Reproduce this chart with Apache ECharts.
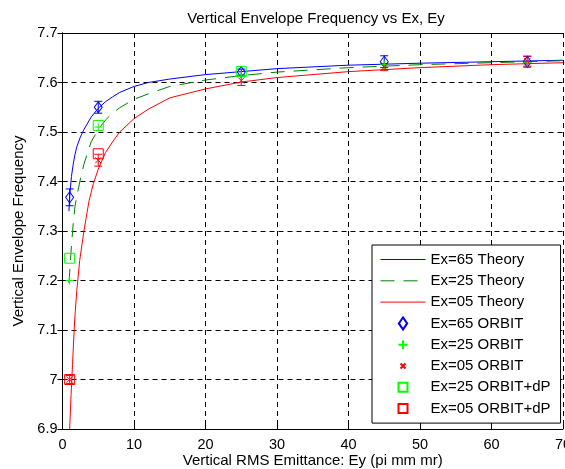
<!DOCTYPE html>
<html><head><meta charset="utf-8">
<script src="https://cdn.jsdelivr.net/npm/echarts@6/dist/echarts.min.js"></script>
<style>html,body{margin:0;padding:0;background:#fff;overflow:hidden;width:565px;height:469px}#c{width:565px;height:469px;overflow:hidden}</style>
</head><body><div id="c"></div>
<script>
// Theory curves
const theory65X = [0.9, 1, 1.25, 1.5, 1.75, 2, 2.5, 3, 4, 5, 6, 7, 8, 10, 12, 15, 20, 25, 30, 40, 50, 60, 70];
const theory65Y = [7.34, 7.37, 7.41, 7.435, 7.455, 7.47, 7.49, 7.505, 7.53, 7.548, 7.561, 7.571, 7.58, 7.592, 7.6, 7.607, 7.616, 7.622, 7.628, 7.635, 7.639, 7.642, 7.645];
const theory25X = [0.9, 1, 1.25, 1.5, 1.75, 2, 2.5, 3, 4, 5, 6, 7, 8, 10, 12, 15, 20, 25, 30, 40, 50, 60, 70];
const theory25Y = [7.195, 7.215, 7.27, 7.315, 7.35, 7.37, 7.405, 7.435, 7.48, 7.505, 7.524, 7.538, 7.549, 7.566, 7.577, 7.592, 7.605, 7.614, 7.621, 7.63, 7.636, 7.64, 7.644];
const theory05X = [1, 1.2, 1.4, 1.7, 2, 2.4, 3, 3.7, 4.3, 5, 6, 7, 8, 10, 12, 15, 20, 25, 30, 40, 50, 60, 70];
const theory05Y = [6.9, 6.97, 7.03, 7.12, 7.18, 7.24, 7.3, 7.36, 7.395, 7.425, 7.458, 7.48, 7.5, 7.527, 7.546, 7.569, 7.587, 7.601, 7.61, 7.622, 7.63, 7.636, 7.64];
// ORBIT simulation points
const orbitX = [1, 5, 25, 45, 65];
const orbit65Y = [7.368, 7.55, 7.621, 7.642, 7.642];
const orbit65Err = [0.017, 0.012, 0.006, 0.012, 0.011];
const orbit25Y = [7.2, 7.51, 7.615, 7.636, 7.64];
const orbit05Y = [7.0, 7.443, 7.604, 7.631, 7.643];
const orbit05Err = [0.008, 0.012, 0.01, 0.007, 0.01];
const dp25X = [1, 5, 25];
const dp25Y = [7.245, 7.513, 7.622];
const dp05X = [1, 5];
const dp05Y = [7.0, 7.456];

const names = ['Ex=65 Theory','Ex=25 Theory','Ex=05 Theory','Ex=65 ORBIT','Ex=25 ORBIT','Ex=05 ORBIT','Ex=25 ORBIT+dP','Ex=05 ORBIT+dP'];
const FONT = 'Liberation Sans';
const FS = 15;
const FS_TICK = 14.5;

const zip = (xs, ys) => xs.map((x, i) => [x, ys[i]]);
const zip3 = (xs, ys, es) => xs.map((x, i) => [x, ys[i], es[i]]);

const DIAMOND = 'path://M5,0L10,7L5,14L0,7Z';
const PLUS = 'path://M0,5L10,5M5,0L5,10';
const CROSS = 'path://M0,0L10,10M10,0L0,10';
const SQUARE = 'path://M0,0L10,0L10,10L0,10Z';
// legend icons (padded inside a 12x12 box)
const L_DIAMOND = 'path://M0,0M6,0L10.5,6.5L6,13L1.5,6.5ZM12,13';
const L_PLUS = 'path://M0,0M1.5,6L10.5,6M6,1.5L6,10.5M12,12';
const L_CROSS = 'path://M0,0M3.5,3.5L8.5,8.5M8.5,3.5L3.5,8.5M12,12';
const L_SQUARE = 'path://M0,0M1.5,1.5L10.5,1.5L10.5,10.5L1.5,10.5ZM12,12';

function errRender(params, api) {
  const x = api.value(0), y = api.value(1), e = api.value(2);
  const lo = api.coord([x, y - e]), hi = api.coord([x, y + e]);
  const w = 4;
  const st = { stroke: api.visual('color'), lineWidth: 1 };
  return { type: 'group', children: [
    { type: 'line', shape: { x1: lo[0], y1: lo[1], x2: hi[0], y2: hi[1] }, style: st },
    { type: 'line', shape: { x1: lo[0] - w, y1: lo[1], x2: lo[0] + w, y2: lo[1] }, style: st },
    { type: 'line', shape: { x1: hi[0] - w, y1: hi[1], x2: hi[0] + w, y2: hi[1] }, style: st }
  ]};
}

function scatter(name, data, sym, size, color) {
  return { name, type: 'scatter', data, symbol: sym, symbolSize: size, z: 5,
    itemStyle: { color: 'rgba(0,0,0,0)', borderColor: color, borderWidth: 1, opacity: 1 } };
}
function theory(name, data, color, type) {
  return { name, type: 'line', data, symbol: 'none', showSymbol: false,
    lineStyle: { color, width: 1, type: type || 'solid' },
    itemStyle: { color: 'rgba(0,0,0,0)', borderColor: 'rgba(0,0,0,0)' } };
}

const chart = echarts.init(document.getElementById('c'), null, { renderer: 'canvas', width: 565, height: 469 });
const axisCommonX = { type: 'value', min: 0, max: 70, interval: 10 };
const axisCommonY = { type: 'value', min: 6.9, max: 7.7, interval: 0.1 };
chart.setOption({
  animation: false,
  backgroundColor: '#fff',
  textStyle: { fontFamily: FONT },
  title: { text: 'Vertical Envelope Frequency vs Ex, Ey', left: 311, top: 6, textAlign: 'center',
    textStyle: { fontFamily: FONT, fontSize: FS, fontWeight: 'normal', color: '#000' } },
  grid: { left: 62.5, right: 2, top: 33, bottom: 40, containLabel: false, outerBoundsMode: 'none' },
  xAxis: [
    Object.assign({}, axisCommonX, {
      position: 'bottom',
      name: 'Vertical RMS Emittance: Ey (pi mm mr)', nameLocation: 'middle', nameGap: 24,
      nameMoveOverlap: false,
      nameTextStyle: { fontFamily: FONT, fontSize: FS, color: '#000' },
      axisLine: { show: true, lineStyle: { color: '#000', width: 1 } },
      axisTick: { show: true, inside: true, length: 5, lineStyle: { color: '#000' } },
      axisLabel: { fontFamily: FONT, fontSize: FS_TICK, color: '#000', margin: 8 },
      splitLine: { show: true, lineStyle: { color: '#000', type: [5, 4], width: 1 } }
    }),
    Object.assign({}, axisCommonX, {
      position: 'top',
      axisLine: { show: true, lineStyle: { color: '#000', width: 1 } },
      axisTick: { show: true, inside: true, length: 5, lineStyle: { color: '#000' } },
      axisLabel: { show: false }, splitLine: { show: false }
    })
  ],
  yAxis: [
    Object.assign({}, axisCommonY, {
      position: 'left',
      name: 'Vertical Envelope Frequency', nameLocation: 'middle', nameGap: 36,
      nameMoveOverlap: false,
      nameTextStyle: { fontFamily: FONT, fontSize: FS, color: '#000' },
      axisLine: { show: true, lineStyle: { color: '#000', width: 1 } },
      axisTick: { show: true, inside: true, length: 5, lineStyle: { color: '#000' } },
      axisLabel: { fontFamily: FONT, fontSize: FS_TICK, color: '#000', margin: 5,
        formatter: v => String(Number(v.toFixed(1))) },
      splitLine: { show: true, lineStyle: { color: '#000', type: [5, 4], width: 1 } }
    }),
    Object.assign({}, axisCommonY, {
      position: 'right',
      axisLine: { show: true, lineStyle: { color: '#000', width: 1 } },
      axisTick: { show: true, inside: true, length: 5, lineStyle: { color: '#000' } },
      axisLabel: { show: false }, splitLine: { show: false }
    })
  ],
  legend: {
    orient: 'vertical', left: 372, top: 245,
    padding: [7, 10, 7, 8],
    itemWidth: 45, itemHeight: 12, itemGap: 6.3,
    backgroundColor: '#fff', borderColor: '#000', borderWidth: 1,
    lineStyle: { width: 1 },
    textStyle: { fontFamily: FONT, fontSize: FS, color: '#000' },
    data: [
      { name: names[0] }, { name: names[1] }, { name: names[2] },
      { name: names[3], icon: L_DIAMOND },
      { name: names[4], icon: L_PLUS },
      { name: names[5], icon: L_CROSS },
      { name: names[6], icon: L_SQUARE },
      { name: names[7], icon: L_SQUARE }
    ]
  },
  series: [
    theory(names[0], zip(theory65X, theory65Y), '#0000ff'),
    theory(names[1], zip(theory25X, theory25Y), '#008000', [14, 9]),
    theory(names[2], zip(theory05X, theory05Y), '#ff0000'),
    scatter(names[3], zip(orbitX, orbit65Y), DIAMOND, [8, 11], '#0000ff'),
    scatter(names[4], zip(orbitX, orbit25Y), PLUS, 8, '#00ff00'),
    scatter(names[5], zip(orbitX, orbit05Y), CROSS, 6, '#ff0000'),
    scatter(names[6], zip(dp25X, dp25Y), SQUARE, 10, '#00ff00'),
    scatter(names[7], zip(dp05X, dp05Y), SQUARE, 10, '#ff0000'),
    { type: 'custom', renderItem: errRender, data: zip3(orbitX, orbit65Y, orbit65Err),
      encode: { x: 0, y: 1 }, itemStyle: { color: '#0000ff' }, z: 4 },
    { type: 'custom', renderItem: errRender, data: zip3(orbitX, orbit05Y, orbit05Err),
      encode: { x: 0, y: 1 }, itemStyle: { color: '#ff0000' }, z: 4 }
  ]
});
</script>
</body></html>
